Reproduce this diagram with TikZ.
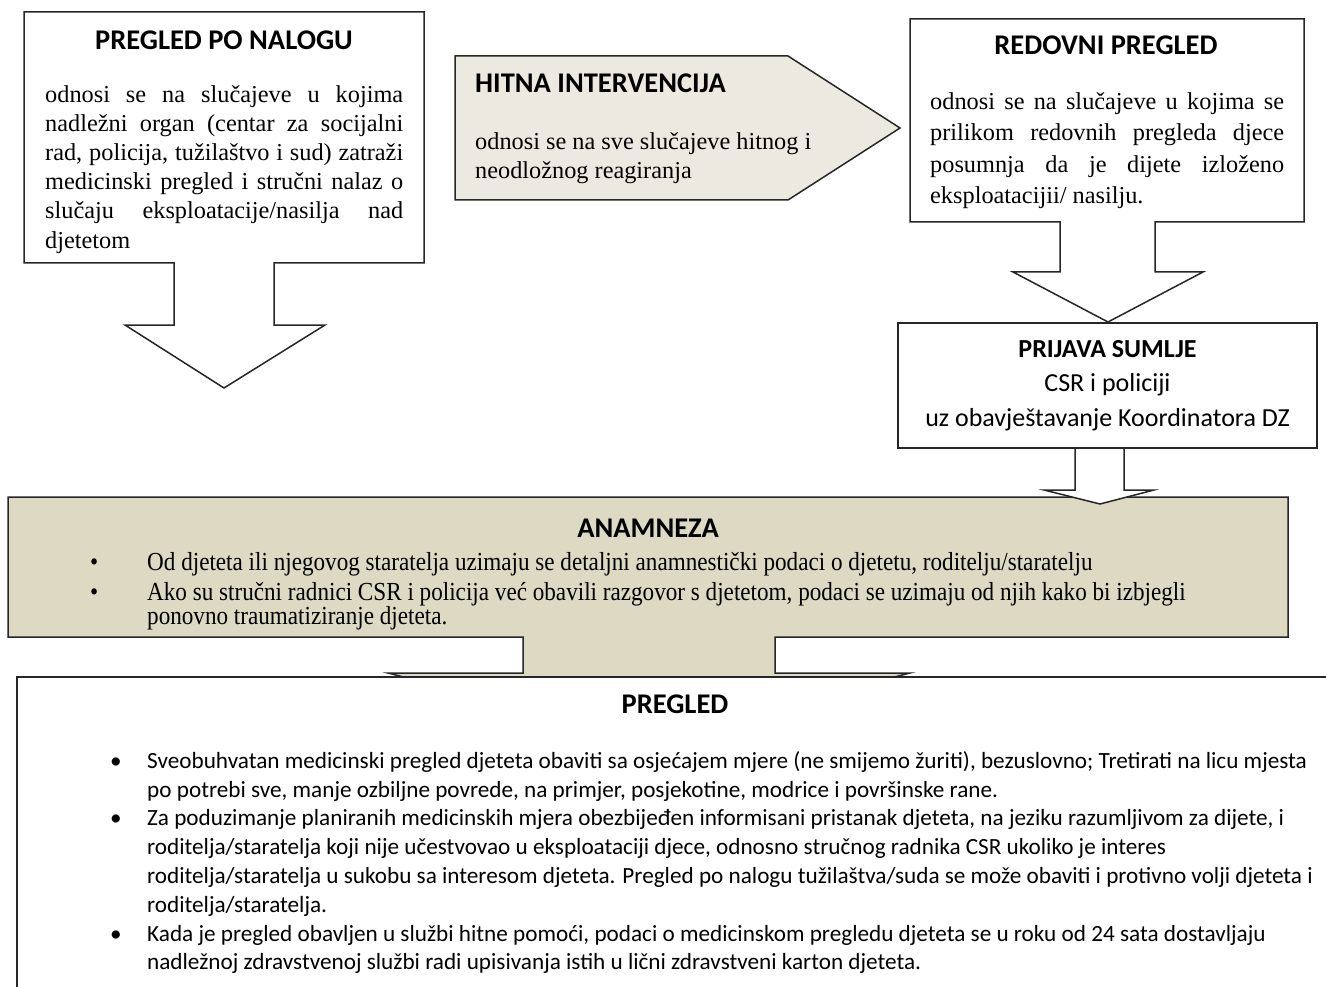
\documentclass[tikz,border=0pt]{standalone}
\usepackage{fontspec}
\setmainfont{Liberation Serif}
\newfontfamily\calfont{Carlito}
\newfontfamily\anafont[FakeStretch=0.89]{Liberation Serif}

\begin{document}
\begin{tikzpicture}[x=1pt, y=-1pt,
    % Colors
    ctan/.style={fill={rgb,255:red,221;green,217;blue,195}},
    clight/.style={fill={rgb,255:red,236;green,234;blue,224}},
    % Styles
    callout/.style={draw=black!85, line width=1.5pt, line join=miter},
    ttl/.style={font=\calfont\bfseries\fontsize{28.5}{34}\selectfont, inner sep=0pt, anchor=base},
    body/.style={font=\fontsize{24.3}{29.2}\selectfont, align=justify, inner sep=0pt, anchor=north west},
    calbody/.style={font=\calfont\fontsize{26}{34.5}\selectfont, align=center, inner sep=0pt},
    list/.style={inner sep=0pt, anchor=north west},
  ]

  \useasboundingbox (0,0) rectangle (1326,987);
  \clip (0,0) rectangle (1326,987);

  % Pregled po nalogu
  \draw[callout, fill=white] (24,12) -- (424,12) -- (424,263) -- (274,263) -- (274,325) -- (325,325)
    -- (224,388) -- (125,325) -- (174,325) -- (174,263) -- (24,263) -- cycle;
  \node[ttl] (naloghead) at (224,50) {PREGLED PO NALOGU};
  \node[body, text width=358pt] (nalogtext) at (45,85) {odnosi se na slučajeve u kojima\linebreak
    nadležni organ (centar za socijalni\linebreak rad, policija, tužilaštvo i sud) zatraži\linebreak
    medicinski pregled i stručni nalaz o\linebreak slučaju eksploatacije/nasilja nad\linebreak djetetom};

  % Hitna intervencija
  \draw[callout, clight] (455,56) -- (788,56) -- (900,128) -- (788,200) -- (455,200) -- cycle;
  \node[ttl, anchor=base west] (hitnahead) at (475,93) {HITNA INTERVENCIJA};
  \node[body, align=left] (hitnatext) at (475,132) {odnosi se na sve slučajeve hitnog i\\
    neodložnog reagiranja};

  % Redovni pregled
  \draw[callout, fill=white] (910,19) -- (1304,19) -- (1304,222) -- (1155,222) -- (1155,272) -- (1203,272)
    -- (1108,322) -- (1013,272) -- (1060,272) -- (1060,222) -- (910,222) -- cycle;
  \node[ttl] (redovnihead) at (1106,55) {REDOVNI PREGLED};
  \node[body, text width=354pt, font=\fontsize{24.3}{31.5}\selectfont] (redovnitext) at (930,92)
    {odnosi se na slučajeve u kojima se\linebreak prilikom redovnih pregleda djece\linebreak
    posumnja da je dijete izloženo\linebreak eksploatacijii/ nasilju.};

  % Anamneza
  \draw[callout, ctan] (8,497) -- (1288,497) -- (1288,637) -- (775,637) -- (775,673) -- (910,673)
    -- (649,740) -- (388,673) -- (523,673) -- (523,637) -- (8,637) -- cycle;
  \node[ttl] (anamhead) at (648,537) {ANAMNEZA};
  \node[list, font=\anafont\fontsize{26}{24}\selectfont] (anamlist) at (90,552) {%
    \begin{tabular}{@{}p{57pt}@{}p{1150pt}@{}}
      \textbullet & Od djeteta ili njegovog staratelja uzimaju se detaljni anamnestički podaci o djetetu, roditelju/staratelju\\[5pt]
      \textbullet & Ako su stručni radnici CSR i policija već obavili razgovor s djetetom, podaci se  uzimaju od njih kako bi izbjegli\newline
        ponovno traumatiziranje djeteta.
    \end{tabular}};

  % Prijava sumlje
  \draw[callout, fill=white] (1075,447) -- (1075,490) -- (1044,490) -- (1100,504) -- (1154,490)
    -- (1124,490) -- (1124,447);
  \node[callout, fill=white, calbody, minimum width=419pt, minimum height=125pt] (prijava) at (1107.5,385.5)
    {\textbf{PRIJAVA SUMLJE}\\ CSR i policiji\\ uz obavještavanje Koordinatora DZ};

  % Pregled
  \draw[callout, fill=white] (17,677) rectangle (1340,1010);
  \node[ttl] (preghead) at (675,713) {PREGLED};
  \node[list, font=\calfont\fontsize{23.2}{28.8}\selectfont] (preglist) at (110,748) {%
    \begin{tabular}{@{}p{37pt}@{}p{1190pt}@{}}
      \textbullet & Sveobuhvatan medicinski pregled djeteta obaviti  sa osjećajem mjere (ne smijemo žuriti), bezuslovno; Tretirati na licu mjesta\newline
        po potrebi sve, manje ozbiljne povrede, na primjer, posjekotine, modrice i površinske rane.\\
      \textbullet & Za poduzimanje planiranih medicinskih mjera obezbijeđen informisani pristanak djeteta, na jeziku razumljivom za dijete, i\newline
        roditelja/staratelja koji nije učestvovao u eksploataciji djece, odnosno stručnog radnika CSR ukoliko je interes\newline
        roditelja/staratelja u sukobu sa interesom djeteta. Pregled po nalogu tužilaštva/suda se može obaviti i protivno volji djeteta i\newline
        roditelja/staratelja.\\
      \textbullet & Kada je pregled obavljen u službi hitne pomoći, podaci o medicinskom pregledu djeteta se u roku od 24 sata dostavljaju\newline
        nadležnoj  zdravstvenoj službi radi upisivanja istih u lični zdravstveni karton djeteta.
    \end{tabular}};

\end{tikzpicture}
\end{document}
